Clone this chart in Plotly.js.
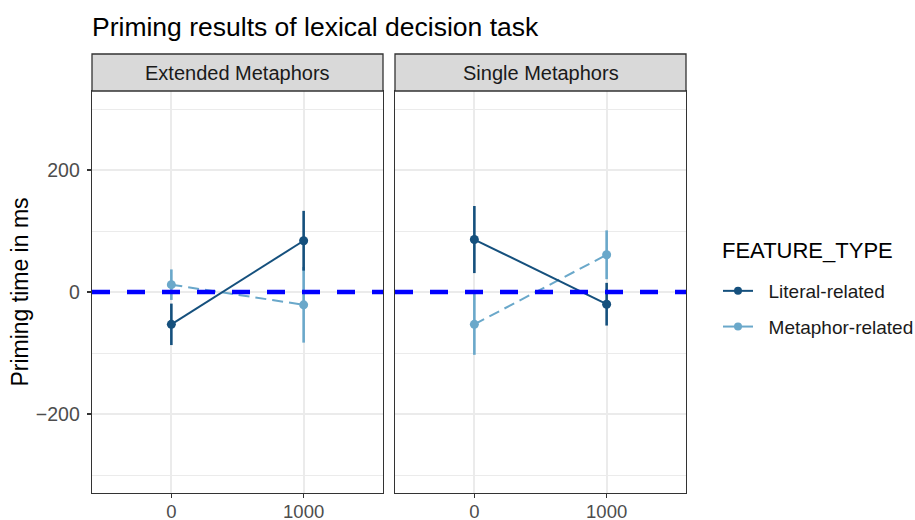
<!DOCTYPE html>
<html>
<head>
<meta charset="utf-8">
<script src="https://cdn.plot.ly/plotly-3.0.1.min.js"></script>
<style>body{margin:0;background:#fff}#chart{width:915px;height:520px}</style>
</head>
<body>
<div id="chart"></div>
<script>
// ---- data ----
const panels = ["Extended Metaphors", "Single Metaphors"];
const delays = [0, 1000];
const featureTypes = ["Literal-related", "Metaphor-related"];
const legendTitle = "FEATURE_TYPE";
// mean priming times (ms)
const extLiteral = [-53, 84];
const extMetaphor = [12, -21];
const sinLiteral = [86, -20];
const sinMetaphor = [-53, 61];
// error bar half-ranges (ms)
const extLiteralErr = [34, 49];
const extMetaphorErr = [25, 62];
const sinLiteralErr = [55, 35];
const sinMetaphorErr = [50, 40];
const yTicks = [-200, 0, 200];
const yMinor = [-300, -100, 100, 300];
const xTicks = [0, 1000];
const refLine = 0;

const colors = {"Literal-related": "#15507d", "Metaphor-related": "#6aa8ca"};
const dashes = {"Literal-related": "solid", "Metaphor-related": "11px,6px"};
const FONT = "Liberation Sans, Arial, sans-serif";

function mk(name, ys, errs, xa, ya) {
  return {
    type: "scatter", mode: "lines+markers", x: delays, y: ys,
    xaxis: xa, yaxis: ya, showlegend: false, name: name,
    line: {color: colors[name], width: 2, dash: dashes[name]},
    marker: {color: colors[name], size: 9},
    error_y: {type: "data", array: errs, visible: true, color: colors[name], thickness: 2.6, width: 0}
  };
}
const traces = [
  mk("Metaphor-related", extMetaphor, extMetaphorErr, "x", "y"),
  mk("Literal-related", extLiteral, extLiteralErr, "x", "y"),
  mk("Metaphor-related", sinMetaphor, sinMetaphorErr, "x2", "y2"),
  mk("Literal-related", sinLiteral, sinLiteralErr, "x2", "y2")
];
featureTypes.forEach((ft, i) => {
  traces.push({
    type: "scatter", mode: "lines+markers", x: [null], y: [null], name: "\u00a0\u00a0" + ft,
    legendgroup: ft, showlegend: true, xaxis: "x", yaxis: "y",
    line: {color: colors[ft], width: 2}, marker: {color: colors[ft], size: 8}
  });
});

const gridC = "#ebebeb";
function xax(domain) {
  return {
    domain: domain, range: [-600, 1600], tickvals: xTicks, ticktext: xTicks.map(String),
    showgrid: true, gridcolor: gridC, gridwidth: 2, zeroline: false,
    showline: true, mirror: true, linecolor: "#333333", linewidth: 1.3,
    ticks: "outside", ticklen: 4, tickwidth: 1.3, tickcolor: "#333333", automargin: false,
    tickfont: {family: FONT, size: 18.5, color: "#4d4d4d"}, fixedrange: true, ticklabelstandoff: -3
  };
}
function yax(showLabels, anchor) {
  return {
    domain: [0, 1], range: [-329.5, 329.5], tickvals: yTicks, ticktext: yTicks.map(v => v < 0 ? "\u2212" + Math.abs(v) : String(v)),
    showgrid: true, gridcolor: gridC, gridwidth: 2, zeroline: false,
    minor: {tickvals: yMinor, showgrid: true, gridcolor: gridC, gridwidth: 1, ticks: ""},
    showline: true, mirror: true, linecolor: "#333333", linewidth: 1.3,
    ticks: showLabels ? "outside" : "", ticklen: 4, tickwidth: 1.3, tickcolor: "#333333",
    showticklabels: showLabels, anchor: anchor, ticklabelstandoff: 3, automargin: showLabels,
    tickfont: {family: FONT, size: 19.5, color: "#4d4d4d"}, fixedrange: true
  };
}

const plotH = 402;
const plotW = 594;
const stripH = 37 / plotH;
const d1 = [0, 291 / plotW], d2 = [303 / plotW, 1];
const shapes = [];
const annotations = [];
[d1, d2].forEach((d, i) => {
  shapes.push({type: "rect", xref: "paper", yref: "paper", x0: d[0], x1: d[1], y0: 1, y1: 1 + stripH,
    fillcolor: "#d9d9d9", line: {color: "#333333", width: 1.3}, layer: "above"});
  annotations.push({xref: "paper", yref: "paper", x: (d[0] + d[1]) / 2, y: 1 + stripH / 2,
    text: panels[i], showarrow: false, xanchor: "center", yanchor: "middle",
    font: {family: FONT, size: 20, color: "#1a1a1a"}});
});
annotations.push({xref: "paper", yref: "paper", x: (720 - 92) / plotW, y: (493 - 250) / plotH, xanchor: "left", yanchor: "middle",
  text: legendTitle, showarrow: false, font: {family: FONT, size: 22, color: "#000"}});
["x", "x2"].forEach((xa, i) => {
  shapes.push({type: "line", xref: xa + " domain", yref: i === 0 ? "y" : "y2", x0: 0, x1: 1, y0: refLine, y1: refLine,
    line: {color: "#0000ff", width: 4.5, dash: "18px,17px"}, layer: "above"});
});

const layout = {
  width: 915, height: 520,
  margin: {l: 92, r: 229, t: 91, b: 27, autoexpand: false},
  paper_bgcolor: "#ffffff", plot_bgcolor: "#ffffff",
  font: {family: FONT, color: "#1a1a1a"},
  title: {text: "Priming results of lexical decision task", x: 92 / 915, xanchor: "left", xref: "container",
    y: 1 - 27 / 520, yanchor: "middle", yref: "container", font: {family: FONT, size: 26.5, color: "#000"}},
  xaxis: xax(d1), xaxis2: Object.assign(xax(d2), {anchor: "y2"}),
  yaxis: Object.assign(yax(true, "x"), {title: {text: "Priming time in ms", standoff: 0, font: {family: FONT, size: 23, color: "#000"}}}),
  yaxis2: Object.assign(yax(false, "x2"), {matches: "y"}),
  showlegend: true,
  legend: {x: 718 / 915, y: 1 - 272 / 520, xanchor: "left", yanchor: "top", xref: "container", yref: "container",
    font: {family: FONT, size: 19, color: "#1a1a1a"}, traceorder: "grouped", tracegroupgap: 8,
    itemwidth: 30, bgcolor: "rgba(0,0,0,0)"},
  shapes: shapes, annotations: annotations
};
layout.xaxis.anchor = "y";
Plotly.newPlot("chart", traces, layout, {displayModeBar: false, staticPlot: true});
</script>
</body>
</html>
